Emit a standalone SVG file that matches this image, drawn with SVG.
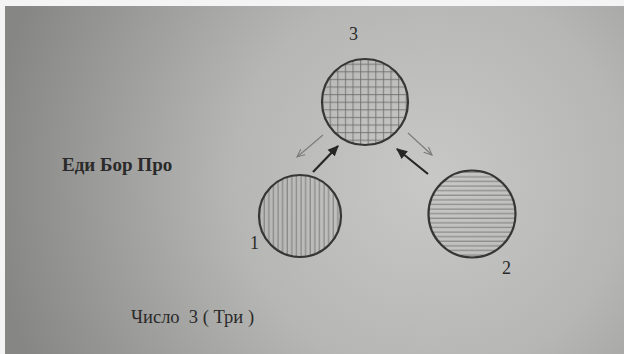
<svg xmlns="http://www.w3.org/2000/svg" width="624" height="354" viewBox="0 0 624 354">
<style>
.ring{fill:none;stroke:#363636;stroke-width:2.2}
.txt{font-family:"Liberation Serif","DejaVu Serif",serif;fill:#2a2a2a}
.thin{stroke:#7a7a7a;stroke-width:1.1;fill:none}
.bold{stroke:#262626;stroke-width:2.2;fill:none}
</style>
<defs>
<radialGradient id="bg" cx="430" cy="180" r="440" gradientUnits="userSpaceOnUse">
<stop offset="0" stop-color="#c8c8c6"/>
<stop offset="0.45" stop-color="#b6b6b4"/>
<stop offset="1" stop-color="#868684"/>
</radialGradient>
<pattern id="vert" width="4.6" height="10" patternUnits="userSpaceOnUse">
<line x1="2" y1="0" x2="2" y2="10" stroke="#666" stroke-width="0.8"/>
</pattern>
<pattern id="horz" width="10" height="4.6" patternUnits="userSpaceOnUse">
<line x1="0" y1="2" x2="10" y2="2" stroke="#666" stroke-width="0.8"/>
</pattern>
<pattern id="grid" width="7.6" height="7.6" patternUnits="userSpaceOnUse">
<path d="M3.5 0V7.6M0 3.5H7.6" stroke="#666" stroke-width="0.8" fill="none"/>
</pattern>
<marker id="open" viewBox="0 0 10 10" refX="9" refY="5" markerWidth="9" markerHeight="9" markerUnits="userSpaceOnUse" orient="auto">
<path d="M0 1L9 5L0 9" fill="none" stroke="#7a7a7a" stroke-width="1.2"/>
</marker>
<marker id="solid" viewBox="0 0 10 10" refX="9" refY="5" markerWidth="11" markerHeight="11" markerUnits="userSpaceOnUse" orient="auto">
<path d="M0 0.5L10 5L0 9.5Z" fill="#262626"/>
</marker>
</defs>
<rect width="624" height="354" fill="#f4f4f4"/>
<rect x="5" y="6" width="619" height="348" fill="url(#bg)"/>

<g id="node3">
<circle cx="365" cy="102" r="43" fill="url(#grid)"/>
<circle cx="365" cy="102" r="43" class="ring"/>
<text x="349" y="40" class="txt" font-size="18">3</text>
</g>
<g id="node1">
<circle cx="300" cy="216" r="41" fill="url(#vert)"/>
<circle cx="300" cy="216" r="41" class="ring"/>
<text x="250" y="249" class="txt" font-size="18">1</text>
</g>
<g id="node2">
<circle cx="472" cy="214" r="43.5" fill="url(#horz)"/>
<circle cx="472" cy="214" r="43.5" class="ring"/>
<text x="502" y="274" class="txt" font-size="18">2</text>
</g>

<g id="connectors">
<line x1="323" y1="135" x2="297" y2="157" class="thin" marker-end="url(#open)"/>
<line x1="408" y1="133" x2="432" y2="155" class="thin" marker-end="url(#open)"/>
<line x1="313" y1="172" x2="338" y2="146" class="bold" marker-end="url(#solid)"/>
<line x1="428" y1="174" x2="397" y2="149" class="bold" marker-end="url(#solid)"/>
</g>

<g id="labels">
<text x="62" y="171" class="txt" font-size="19" font-weight="bold">Еди Бор Про</text>
<text x="131" y="323" class="txt" font-size="18.5" xml:space="preserve">Число  3 ( Три )</text>
</g>
</svg>
